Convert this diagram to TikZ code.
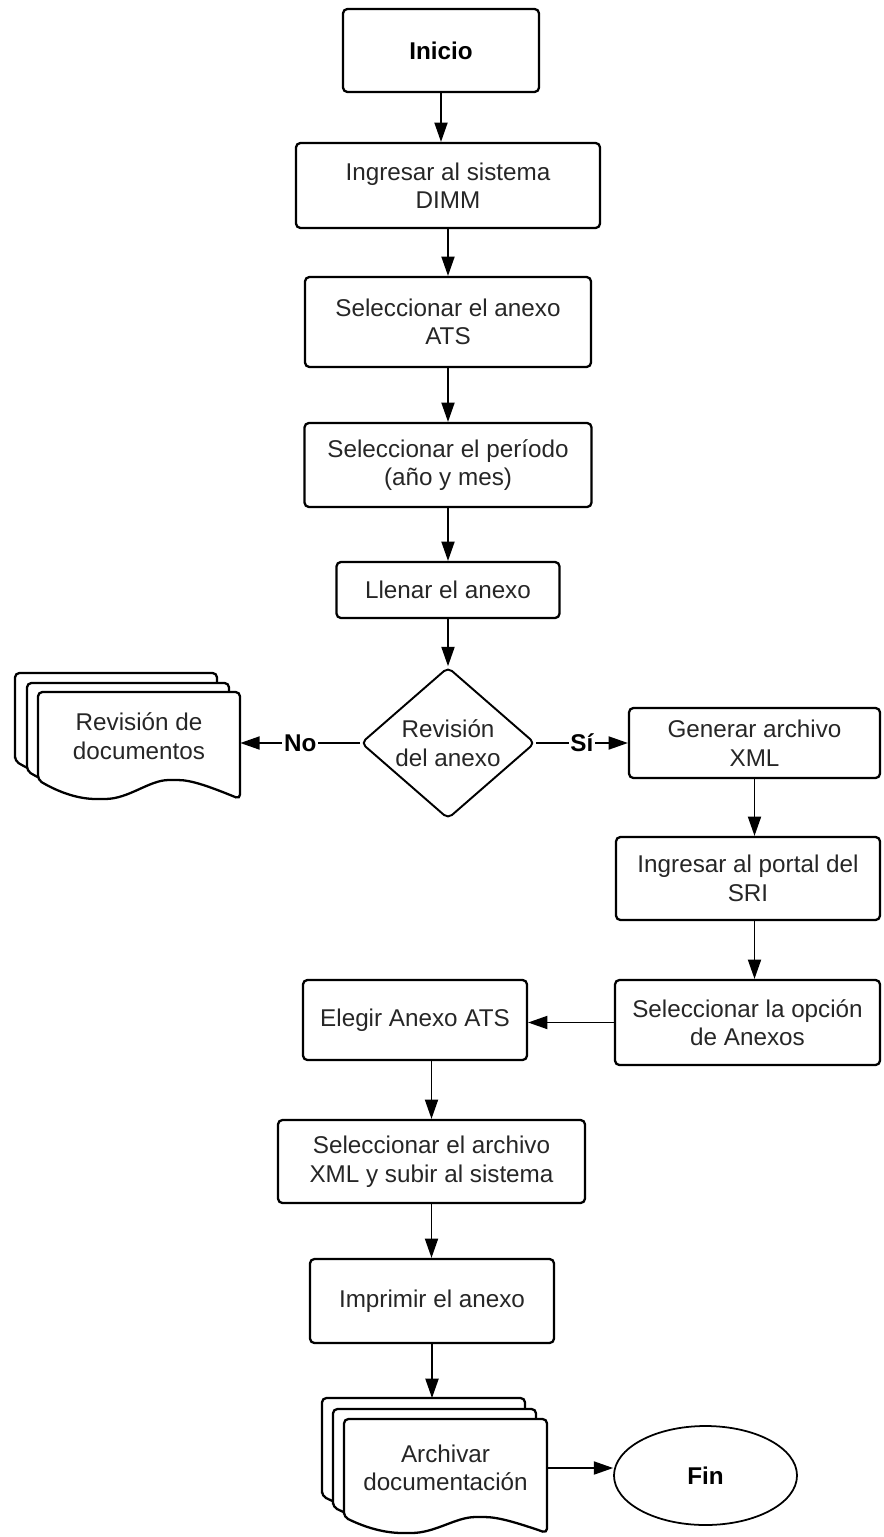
\documentclass[tikz,border=0pt]{standalone}
\usepackage{fontspec}
\setmainfont{Liberation Sans}
\usepackage{tikz}
\usetikzlibrary{shapes.geometric,arrows.meta}

\newcommand{\px}{0.02cm}
\newcommand{\flowfont}{\fontsize{13.8}{16.2}\selectfont}
% one sheet of a document stack: left, top, width, height, wave depth
\newcommand{\docshape}[5]{%
	\draw[sheet] (#1,#2+#4) -- (#1,#2) -- (#1+#3,#2) -- (#1+#3,#2+#4+#5)
		.. controls (#1+0.85*#3,#2+#4+0.35*#5) and (#1+0.76*#3,#2+#4) .. (#1+0.67*#3,#2+#4)
		.. controls (#1+0.55*#3,#2+#4) and (#1+0.45*#3,#2+#4+#5) .. (#1+0.31*#3,#2+#4+#5)
		.. controls (#1+0.18*#3,#2+#4+#5) and (#1+0.08*#3,#2+#4+0.5*#5) .. (#1,#2+#4) -- cycle;}

\begin{document}
\begin{tikzpicture}[x=\px,y=-\px,font=\flowfont,text=black!85]
			\tikzstyle{process}=[draw=black, line width=1.3pt, rounded corners=2.5pt, align=center, inner sep=0pt]
			\tikzstyle{decision}=[diamond, draw=black, line width=1.1pt, rounded corners=3pt, align=center, inner sep=0pt]
			\tikzstyle{terminal}=[ellipse, draw=black, line width=1pt, font=\flowfont\bfseries]
			\tikzstyle{sheet}=[draw=black, fill=white, line width=1.3pt, rounded corners=2.5pt]
			\tikzstyle{doctext}=[align=center, inner sep=0pt]
			\tikzset{boxsize/.style 2 args={minimum width=#1*\px, minimum height=#2*\px}}
			\tikzset{edge/.style={-{Triangle[length=11pt,width=7.5pt]}, draw=black, line width=0.8pt}}
			\tikzset{answer/.style={fill=white, text=black, font=\flowfont\bfseries, inner sep=1pt}}
			
			\useasboundingbox (0,0) rectangle (884,1537);
			
			% main column
			\node[process, boxsize={196}{83}, font=\flowfont\bfseries, text=black](inicio) at (441,50.5) {Inicio};
			\node[process, boxsize={304}{85}](dimm)     at (448,185.5) {Ingresar al sistema\\DIMM};
			\node[process, boxsize={286}{90}](ats)      at (448,322)   {Seleccionar el anexo\\ATS};
			\node[process, boxsize={287}{84}](periodo)  at (448,465)   {Seleccionar el período\\(año y mes)};
			\node[process, boxsize={223}{56}](llenar)   at (448,590)   {Llenar el anexo};
			\node[decision, boxsize={174}{134}](revision) at (448,743) {Revisión\\del anexo};
			
			% stack on the left
			\docshape{15}{673}{202}{88}{19}
			\docshape{27}{683}{202}{88}{19}
			\docshape{38}{692}{202}{88}{19}
			\node[doctext, boxsize={202}{88}](revdoc) at (139,736) {Revisión de\\documentos};
			
			% right branch
			\node[process, boxsize={251}{70}](generar)   at (754.5,743)   {Generar archivo\\XML};
			\node[process, boxsize={264}{83}](portal)    at (748,878.5)   {Ingresar al portal del\\SRI};
			\node[process, boxsize={265}{85}](selopcion) at (747.5,1022.5) {Seleccionar la opción\\de Anexos};
			\node[process, boxsize={224}{80}](elegir)    at (415,1020)    {Elegir Anexo ATS};
			\node[process, boxsize={307}{83}](selarchivo) at (431.5,1161.5) {Seleccionar el archivo\\XML y subir al sistema};
			\node[process, boxsize={244}{84}](imprimir)  at (432,1301)    {Imprimir el anexo};
			
			% stack at the bottom + end
			\docshape{322}{1398}{203}{98}{16}
			\docshape{333}{1409}{203}{98}{16}
			\docshape{344}{1419}{203}{98}{16}
			\node[doctext, boxsize={203}{98}](archdoc) at (445.5,1468) {Archivar\\documentación};
			\coordinate (archtop) at (433,1398);
			\node[terminal, boxsize={183}{99}, text=black](fin) at (705.5,1475.5) {Fin};
			
			% arrows
			\draw[edge] (inicio.south) -- (inicio.south |- dimm.north);
			\draw[edge] (dimm.south) -- (dimm.south |- ats.north);
			\draw[edge] (ats.south) -- (ats.south |- periodo.north);
			\draw[edge] (periodo.south) -- (periodo.south |- llenar.north);
			\draw[edge] (llenar.south) -- (llenar.south |- revision.north);
			\draw[edge] (revision.west) -- (revision.west -| revdoc.east) node[midway, answer] {No};
			\draw[edge] (revision.east) -- (generar.west) node[midway, answer] {Sí};
			\draw[edge] (generar.south) -- (generar.south |- portal.north);
			\draw[edge] (portal.south -| generar.south) -- (generar.south |- selopcion.north);
			\draw[edge] (selopcion.west) -- (selopcion.west -| elegir.east);
			\draw[edge] (elegir.south -| selarchivo.north) -- (selarchivo.north);
			\draw[edge] (selarchivo.south) -- (selarchivo.south |- imprimir.north);
			\draw[edge] (imprimir.south) -- (imprimir.south |- archtop);
			\draw[edge] (archdoc.east) -- (archdoc.east -| fin.west);
\end{tikzpicture}
\end{document}
